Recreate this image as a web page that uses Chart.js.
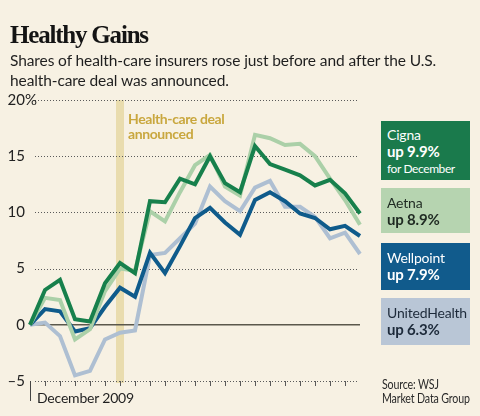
<!DOCTYPE html>
<html>
<head>
<meta charset="utf-8">
<script src="https://cdn.jsdelivr.net/npm/chart.js@4/dist/chart.umd.min.js"></script>
<style>
  html, body { margin: 0; padding: 0; background: #f7f1e3; }
  #wrap { position: relative; width: 480px; height: 416px; overflow: hidden; background: #f7f1e3; font-family: Lato, sans-serif; color: #1f1f1f; }
  #chart { position: absolute; left: 0; top: 0; }
  .t { position: absolute; white-space: nowrap; }
  #title { left: 10px; top: 21px; font-family: "Liberation Serif", serif; font-weight: bold; font-size: 25px; letter-spacing: -1.2px; color: #141414; }
  #sub { left: 10px; top: 50px; font-size: 15.5px; line-height: 20px; letter-spacing: -0.1px; }
  #deal { left: 128px; top: 111px; font-size: 14px; line-height: 15px; font-weight: bold; color: #c9a73e; letter-spacing: -0.4px; }
  #month { left: 37px; top: 389px; font-size: 14px; letter-spacing: -0.2px; }
  .box { position: absolute; left: 381px; width: 89px; box-sizing: border-box; padding-left: 6px; font-size: 14px; line-height: 16px; white-space: nowrap; letter-spacing: -0.2px; }
  .box b { font-size: 15px; }
  .box .s { font-size: 12px; letter-spacing: -0.4px; }
  #source { left: 382px; top: 377px; font-size: 14px; line-height: 14px; letter-spacing: -0.2px; color: #2a2a2a; transform: scaleX(0.76); transform-origin: 0 0; }
</style>
</head>
<body>
<div id="wrap">
  <canvas id="chart" width="480" height="416"></canvas>
  <div class="t" id="title">Healthy Gains</div>
  <div class="t" id="sub">Shares of health-care insurers rose just before and after the U.S.<br>health-care deal was announced.</div>
  <div class="t" id="deal">Health-care deal<br>announced</div>
  <div class="t" id="month">December 2009</div>
  <div class="box" style="top:121px;height:59px;background:#1a7a4c;color:#fff;padding-top:6px;">Cigna<br><b>up 9.9%</b><br><span class="s">for December</span></div>
  <div class="box" style="top:188px;height:45px;background:#b6d4b0;color:#1f2a22;padding-top:7px;">Aetna<br><b>up 8.9%</b></div>
  <div class="box" style="top:243px;height:47px;background:#115b8c;color:#fff;padding-top:7px;">Wellpoint<br><b>up 7.9%</b></div>
  <div class="box" style="top:298px;height:47px;background:#b9c6d6;color:#1d2a3a;padding-top:7px;">UnitedHealth<br><b>up 6.3%</b></div>
  <div class="t" id="source">Source: WSJ<br>Market Data Group</div>
</div>
<script>
(function () {
  "use strict";

  // trading days: Nov 30 close as base, then every December 2009 session
  var days = ["11/30", "12/1", "12/2", "12/3", "12/4", "12/7", "12/8", "12/9", "12/10", "12/11",
    "12/14", "12/15", "12/16", "12/17", "12/18", "12/21", "12/22", "12/23", "12/24",
    "12/28", "12/29", "12/30", "12/31"];

  var cigna = [0, 3.1, 4.0, 0.5, 0.3, 3.7, 5.5, 4.6, 11.0, 10.9, 13.0, 12.5, 15.0, 12.6,
    11.8, 15.9, 14.3, 13.8, 13.3, 12.4, 12.9, 11.7, 9.9];
  var aetna = [0, 2.4, 2.2, -1.3, -0.4, 3.0, 5.0, 4.8, 10.1, 9.2, 11.8, 14.2, 15.1, 12.3,
    11.5, 16.9, 16.6, 16.0, 16.1, 15.0, 13.0, 11.1, 8.9];
  var wellpoint = [0, 1.4, 1.2, -0.6, -0.3, 1.6, 3.3, 2.5, 6.4, 4.6, 7.0, 9.5, 10.4, 9.1,
    8.0, 11.1, 11.8, 11.0, 9.9, 9.5, 8.5, 8.8, 7.9];
  var unitedHealth = [0, 0.2, -1.0, -4.5, -4.1, -1.3, -0.7, -0.5, 6.2, 6.4, 7.7, 9.0, 12.3,
    11.0, 10.1, 12.2, 12.8, 10.5, 10.5, 9.6, 7.7, 8.2, 6.3];

  var yTicks = [20, 15, 10, 5, 0, -5];
  var yTickLabels = ["20%", "15", "10", "5", "0", "\u20135"];
  var dealIndex = 6;

  var colors = {
    cigna: "#17804c",
    aetna: "#abd0a8",
    wellpoint: "#0f5b8b",
    unitedHealth: "#aebfd2",
    band: "#e9dcae",
    grid: "#5a5a5a",
    zero: "#5b584c",
    text: "#222"
  };

  function dotted(ctx, x1, x2, y) {
    ctx.save();
    ctx.strokeStyle = colors.grid;
    ctx.lineWidth = 1;
    ctx.setLineDash([1, 2]);
    ctx.beginPath();
    ctx.moveTo(x1, y + 0.5);
    ctx.lineTo(x2, y + 0.5);
    ctx.stroke();
    ctx.restore();
  }

  var framePlugin = {
    id: "frame",
    beforeDatasetsDraw: function (chart) {
      var ctx = chart.ctx;
      var x = chart.scales.x;
      var y = chart.scales.y;
      var area = chart.chartArea;

      // deal announcement band
      var bx = x.getPixelForValue(dealIndex);
      ctx.fillStyle = colors.band;
      ctx.fillRect(bx - 4, y.getPixelForValue(20), 8, y.getPixelForValue(-5) - y.getPixelForValue(20) + 2);

      // dotted grid
      for (var i = 0; i < yTicks.length; i++) {
        if (yTicks[i] === 0) continue;
        dotted(ctx, area.left + 5, area.right - 2, Math.round(y.getPixelForValue(yTicks[i])));
      }

      // small ticks under the bottom line
      var by = Math.round(y.getPixelForValue(-5));
      ctx.strokeStyle = colors.grid;
      ctx.lineWidth = 1;
      ctx.beginPath();
      for (var k = 1; k < days.length - 1; k++) {
        var tx = Math.round(x.getPixelForValue(k)) + 0.5;
        ctx.moveTo(tx, by);
        ctx.lineTo(tx, by + 5);
      }
      ctx.stroke();

      // month marker
      var mx = Math.round(x.getPixelForValue(0)) + 0.5;
      ctx.strokeStyle = "#444";
      ctx.beginPath();
      ctx.moveTo(mx, by);
      ctx.lineTo(mx, by + 20);
      ctx.stroke();

      // zero line
      var zy = y.getPixelForValue(0);
      ctx.strokeStyle = colors.zero;
      ctx.lineWidth = 1.5;
      ctx.beginPath();
      ctx.moveTo(area.left, zy);
      ctx.lineTo(area.right, zy);
      ctx.stroke();
    },
    afterDraw: function (chart) {
      var ctx = chart.ctx;
      var y = chart.scales.y;
      ctx.save();
      ctx.fillStyle = colors.text;
      ctx.font = "15px Lato, sans-serif";
      ctx.textBaseline = "middle";
      for (var i = 0; i < yTicks.length; i++) {
        var label = yTickLabels[i];
        var digits = label.replace("%", "");
        var w = ctx.measureText(digits).width;
        ctx.fillText(label, 25 - w, y.getPixelForValue(yTicks[i]));
      }
      ctx.restore();
    }
  };

  function series(label, data, color) {
    return {
      label: label,
      data: data,
      borderColor: color,
      backgroundColor: color,
      borderWidth: 4,
      pointRadius: 0,
      tension: 0,
      borderJoinStyle: "miter",
      fill: false
    };
  }

  new Chart(document.getElementById("chart"), {
    type: "line",
    data: {
      labels: days,
      datasets: [
        series("Cigna", cigna, colors.cigna),
        series("Aetna", aetna, colors.aetna),
        series("Wellpoint", wellpoint, colors.wellpoint),
        series("UnitedHealth", unitedHealth, colors.unitedHealth)
      ]
    },
    options: {
      responsive: false,
      animation: false,
      devicePixelRatio: 1,
      layout: { padding: { left: 30, right: 120, top: 100, bottom: 35 } },
      plugins: { legend: { display: false }, tooltip: { enabled: false } },
      scales: {
        x: { display: false },
        y: { display: false, min: -5, max: 20 }
      }
    },
    plugins: [framePlugin]
  });
})();
</script>
</body>
</html>
